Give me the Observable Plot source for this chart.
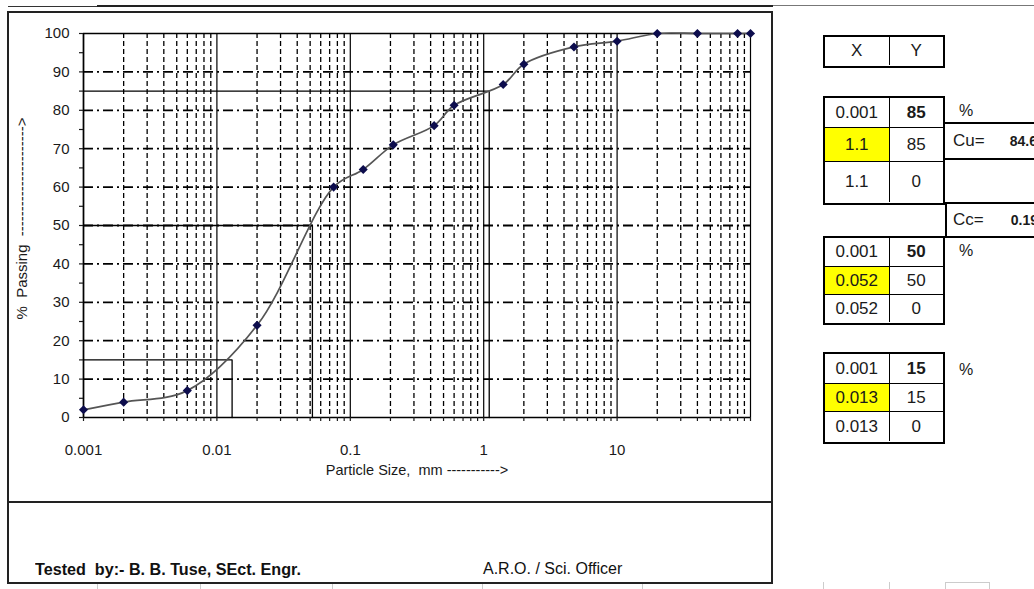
<!DOCTYPE html>
<html>
<head>
<meta charset="utf-8">
<script src="https://cdn.jsdelivr.net/npm/d3@7"></script>
<script src="https://cdn.jsdelivr.net/npm/@observablehq/plot@0.6"></script>
<style>
  html, body { margin: 0; padding: 0; background: #fff; }
  #page { position: relative; width: 1034px; height: 589px; overflow: hidden; background: #fff;
          font-family: 'Liberation Sans', Arial, sans-serif; color: #111; }
  .abs { position: absolute; box-sizing: border-box; }
  .cell { display: flex; align-items: center; justify-content: center; font-size: 17px; box-sizing: border-box; color: #1a1a1a; }
</style>
</head>
<body>
<div id="page"></div>
<script>
// ---- data ----
const sizes   = [0.001, 0.002, 0.006, 0.02, 0.075, 0.125, 0.21, 0.425, 0.6, 1.4, 2, 4.75, 10, 20, 40, 80, 100];
const passing = [2, 4, 7, 24, 60, 64.6, 71, 76, 81.3, 86.7, 92, 96.5, 98, 100, 100, 100, 100];

const d85X = [0.001, 1.1, 1.1],     d85Y = [85, 85, 0];
const d50X = [0.001, 0.052, 0.052], d50Y = [50, 50, 0];
const d15X = [0.001, 0.013, 0.013], d15Y = [15, 15, 0];

const decades = [0.001, 0.01, 0.1, 1, 10, 100];
const xTickLabels = ["0.001", "0.01", "0.1", "1", "10", ""];
const multipliers = [2, 3, 4, 5, 6, 7, 8, 9];
const yTicks = [0, 10, 20, 30, 40, 50, 60, 70, 80, 90, 100];
const yMinorTicks = [5, 15, 25, 35, 45, 55, 65, 75, 85, 95];

const cuLabel = "Cu=", cuValue = "84.62";
const ccLabel = "Cc=", ccValue = "0.19";
const xTitle = "Particle Size,\u00a0\u00a0mm ----------->";
const yTitle = "%\u00a0\u00a0Passing\u00a0\u00a0---------------------->";
const testedBy = "Tested\u00a0 by:- B. B. Tuse, SEct. Engr.";
const officer = "A.R.O. / Sci. Officer";

// ---- derived ----
const data = sizes.map((s, i) => ({size: s, pass: passing[i]}));
const minorX = decades.slice(0, -1).flatMap(d => multipliers.map(m => +(d * m).toPrecision(3)));
const allX = decades.concat(minorX).sort((a, b) => a - b);
const gridY = yTicks.filter(v => v > 0 && v < 100);
const refLine = (xs, ys) => xs.map((x, i) => ({x, y: ys[i]}));
const labelOf = new Map(decades.map((d, i) => [d, xTickLabels[i]]));

const FONT = "'Liberation Sans', Arial, sans-serif";
const page = document.getElementById("page");

const chart = Plot.plot({
  width: 1034, height: 589,
  marginLeft: 83, marginRight: 284, marginTop: 33, marginBottom: 172,
  x: {type: "log", domain: [0.001, 100]},
  y: {domain: [0, 100]},
  style: {fontFamily: FONT, fontSize: "15px", color: "#1a1a1a", background: "transparent", overflow: "visible"},
  marks: [
    Plot.ruleX(minorX, {stroke: "#000", strokeWidth: 1.3, strokeDasharray: "5,3"}),
    Plot.ruleX(decades, {stroke: "#000", strokeWidth: 1.2}),
    Plot.ruleY(gridY, {stroke: "#000", strokeWidth: 1.8, strokeDasharray: "10,4,2,4"}),
    Plot.ruleY([0, 100], {stroke: "#000", strokeWidth: 1.4}),
    Plot.ruleX([0.001], {stroke: "#000", strokeWidth: 1.6}),
    Plot.line(refLine(d85X, d85Y), {x: "x", y: "y", stroke: "#000", strokeWidth: 1.3}),
    Plot.line(refLine(d50X, d50Y), {x: "x", y: "y", stroke: "#000", strokeWidth: 1.3}),
    Plot.line(refLine(d15X, d15Y), {x: "x", y: "y", stroke: "#000", strokeWidth: 1.3}),
    Plot.line(data, {x: "size", y: "pass", curve: "catmull-rom", stroke: "#555", strokeWidth: 1.7}),
    Plot.dot(data, {x: "size", y: "pass", symbol: "diamond2", r: 4.1, fill: "#0d0d4d", stroke: "none"}),
    Plot.axisX({ticks: allX, tickSize: 4, tickPadding: 23, label: null, strokeWidth: 1.2,
                tickFormat: d => labelOf.has(d) ? labelOf.get(d) : ""}),
    Plot.axisY({ticks: yMinorTicks.concat(yTicks), tickSize: 4, tickPadding: 10, label: null, strokeWidth: 1.2,
                tickFormat: d => yTicks.includes(d) ? d : ""}),
    Plot.text([xTitle], {frameAnchor: "bottom", dy: 57, fontSize: 14.5}),
    Plot.text([yTitle], {frameAnchor: "left", textAnchor: "middle", dx: -61, dy: -7, rotate: -90, fontSize: 15})
  ]
});
chart.style.position = "absolute";
chart.style.left = "0px";
chart.style.top = "0px";
page.appendChild(chart);

// ---- frames ----
function box(left, top, width, height, css) {
  const d = document.createElement("div");
  d.className = "abs";
  d.style.cssText += `left:${left}px;top:${top}px;width:${width}px;height:${height}px;` + (css || "");
  page.appendChild(d);
  return d;
}
box(8, 6, 90, 1, "background:#333;");
box(97, 5, 676, 2, "background:#222;");
box(773, 5, 261, 1, "background:#777;");
box(7, 11, 766, 492, "border:2px solid #222;border-right-width:2.5px;");
box(7, 502, 766, 82, "border:2px solid #222;border-top:none;border-right-width:2.5px;");
// faint sheet gridlines at the bottom
[97, 200, 332, 482, 642].forEach(x => box(x, 584, 1, 5, "background:#ccc;"));
box(823, 582, 1, 7, "background:#ccc;");
box(889, 582, 1, 7, "background:#ccc;");
box(945, 582, 45, 7, "border:1px solid #ccc;border-bottom:none;");

// ---- text below chart ----
const t1 = box(35, 560, 330, 24, `font-weight:bold;font-size:17px;white-space:nowrap;color:#111;transform:scaleX(0.95);transform-origin:left center;`);
t1.textContent = testedBy;
const t2 = box(483, 560, 200, 24, `font-size:16px;white-space:nowrap;color:#111;`);
t2.textContent = officer;

// ---- tables ----
function table(left, top, rowHeights, rows, opts) {
  const total = rowHeights.reduce((a, b) => a + b, 0) + 5;
  const t = box(left, top, 122, total,
    `border:2.5px solid #000;display:grid;grid-template-columns:64.5px 1fr;grid-template-rows:${rowHeights.map(h => h + "px").join(" ")};`);
  rows.forEach((r, i) => {
    r.forEach((v, j) => {
      const c = document.createElement("div");
      c.className = "cell";
      let css = "";
      if (j === 0) css += "border-right:1px solid #000;";
      if (i < rows.length - 1) css += "border-bottom:1px solid #000;";
      if (opts && opts.yellowRow === i && j === 0) css += "background:#ffff00;";
      if (opts && opts.boldRow === i && j === 1) css += "font-weight:bold;";
      c.style.cssText = css;
      c.textContent = v;
      t.appendChild(c);
    });
  });
  return t;
}
table(823, 35, [28], [["X", "Y"]]);
const fmt = (xs, ys) => xs.map((x, i) => [String(x), String(ys[i])]);
table(823, 96, [30, 34, 40], fmt(d85X, d85Y), {yellowRow: 1, boldRow: 0});
table(823, 236, [29, 28, 27], fmt(d50X, d50Y), {yellowRow: 1, boldRow: 0});
table(823, 352, [30, 28, 29], fmt(d15X, d15Y), {yellowRow: 1, boldRow: 0});

// percent signs
[111, 251, 370].forEach(y => {
  const p = box(959, y - 11, 20, 22, "font-size:16px;line-height:22px;color:#1a1a1a;");
  p.textContent = "%";
});
// Cu / Cc cells
const cu = box(945, 122, 100, 38, "border-top:2.5px solid #000;border-bottom:2.5px solid #000;font-size:17px;line-height:33px;white-space:nowrap;padding-left:8px;color:#1a1a1a;");
cu.innerHTML = `${cuLabel}<span style="font-weight:bold;font-size:14px;margin-left:25px;">${cuValue}</span>`;
const cc = box(945, 202, 100, 36, "border-top:2.5px solid #000;border-bottom:2.5px solid #000;border-left:2.5px solid #000;font-size:17px;line-height:31px;white-space:nowrap;padding-left:6px;color:#1a1a1a;");
cc.innerHTML = `${ccLabel}<span style="font-weight:bold;font-size:14px;margin-left:27px;">${ccValue}</span>`;
</script>
</body>
</html>
